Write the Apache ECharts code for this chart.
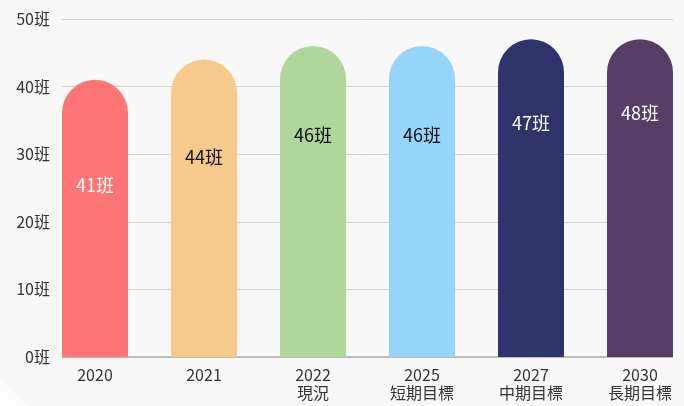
<!DOCTYPE html>
<html><head><meta charset="utf-8">
<script src="https://cdn.jsdelivr.net/npm/echarts@6/dist/echarts.min.js"></script>
<style>html,body{margin:0;padding:0;background:#f8f8f8}#c{width:684px;height:406px}</style>
</head><body><div id="c"></div>
<script>
const categories = ['2020\n ', '2021\n ', '2022\n現況', '2025\n短期目標', '2027\n中期目標', '2030\n長期目標'];
const barValues = [41, 44, 46, 46, 47, 47];
const labelValues = [41, 44, 46, 46, 47, 48];
const labelHeights = [25.4, 29.6, 32.8, 32.8, 34.6, 36.1];
const colors = ['#ff7575', '#f7c98b', '#afd69b', '#95d5fb', '#2e336b', '#573c66'];
const labelColors = ['#ffffff', '#111111', '#111111', '#111111', '#ffffff', '#ffffff'];
const yTicks = [0, 10, 20, 30, 40, 50];

const font = '"Noto Sans CJK TC", "Noto Sans", sans-serif';
const chart = echarts.init(document.getElementById('c'));
chart.setOption({
  backgroundColor: '#f8f8f8',
  animation: false,
  graphic: [{
    type: 'polygon', z: -10,
    shape: { points: [[0, 378], [28, 406], [0, 406]] },
    style: { fill: '#fdfdfd' }
  }],
  grid: [
    { left: 62, width: 611, top: 19, bottom: 49 },
    { left: 95, width: 545, top: 19, bottom: 49 }
  ],
  xAxis: [
    { gridIndex: 0, type: 'value', show: false, min: 0, max: 1 },
    { gridIndex: 1, type: 'category', data: categories, boundaryGap: false,
      axisLine: { show: false }, axisTick: { show: false },
      axisLabel: { color: '#333', fontSize: 16, fontFamily: font, lineHeight: 18, margin: 9, interval: 0 } }
  ],
  yAxis: [
    { gridIndex: 0, type: 'value', min: 0, max: 50, interval: 10,
      axisLine: { show: false }, axisTick: { show: false },
      splitLine: { lineStyle: { color: '#d0d0d0', width: 1 } },
      axisLabel: { color: '#333', fontSize: 16, fontFamily: font, margin: 12,
        formatter: v => yTicks.includes(v) ? v + '班' : '' } },
    { gridIndex: 1, type: 'value', min: 0, max: 50, show: false }
  ],
  series: [
    { type: 'line', xAxisIndex: 0, yAxisIndex: 0, data: [[0, 0], [1, 0]], symbol: 'none',
      lineStyle: { color: '#aaaaaa', width: 1.5 }, z: 1, silent: true },
    { type: 'bar', xAxisIndex: 1, yAxisIndex: 1, barWidth: 66, z: 3,
      data: barValues.map((v, i) => ({ value: v, itemStyle: { color: colors[i], borderRadius: [33, 33, 0, 0] } })) },
    { type: 'scatter', xAxisIndex: 1, yAxisIndex: 1, symbolSize: 1, z: 5,
      itemStyle: { color: 'rgba(0,0,0,0)', opacity: 1 },
      data: labelHeights.map((v, i) => ({ value: v,
        label: { show: true, position: 'inside', formatter: labelValues[i] + '班', opacity: 1,
          color: labelColors[i], fontSize: 18, fontFamily: font,
          textBorderWidth: 0, textBorderColor: 'transparent' } })) }
  ]
});
</script></body></html>
